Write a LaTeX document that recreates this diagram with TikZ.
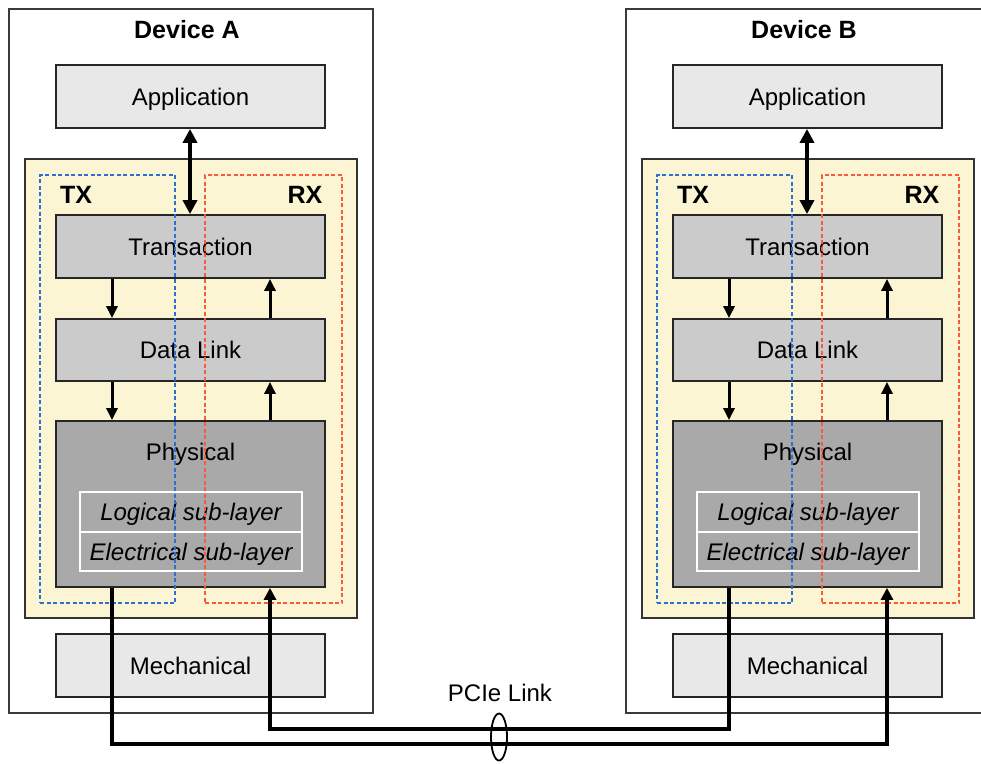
\documentclass[tikz,border=0pt]{standalone}
\usepackage{fontspec}
\setmainfont{Liberation Sans}
\usetikzlibrary{arrows.meta,shapes.geometric}
\definecolor{applight}{HTML}{E8E8E8}
\definecolor{midgray}{HTML}{CBCBCB}
\definecolor{phygray}{HTML}{A9A9A9}
\definecolor{paleyellow}{HTML}{FCF5D3}
\definecolor{txblue}{HTML}{2B6FD2}
\definecolor{rxred}{HTML}{FA5A3C}
\definecolor{framegray}{HTML}{3A3A3A}
\tikzset{
  outerbox/.style={draw=framegray, line width=1.4pt, inner sep=0pt},
  layerbox/.style={draw=black!85, line width=1.8pt, inner sep=0pt, minimum width=269pt},
  yellowbox/.style={draw=black!80, fill=paleyellow, line width=1.8pt, inner sep=0pt},
  txbox/.style={draw=txblue, line width=2.5pt, dash pattern=on 4pt off 2.5pt, inner sep=0pt},
  rxbox/.style={draw=rxred, line width=2.5pt, dash pattern=on 4pt off 2.5pt, inner sep=0pt},
  subbox/.style={draw=white, line width=1.2pt, inner sep=0pt, minimum width=222pt},
  txt/.style={font=\fontsize{24}{28}\selectfont, inner sep=0pt, text depth=0pt},
  btxt/.style={font=\fontsize{25}{29}\selectfont\bfseries, inner sep=0pt},
  itxt/.style={font=\fontsize{24}{28}\selectfont\itshape, text depth=0pt},
  smallarr/.style={line width=3pt, -{Triangle[length=12pt,width=11pt]}},
  dblarr/.style={line width=4.5pt, {Triangle[length=14pt,width=14pt]}-{Triangle[length=14pt,width=14pt]}},
  linkline/.style={line width=3.5pt, line join=miter, -{Triangle[length=12pt,width=12pt]}},
}
\newcommand\drawdevice[3]{%
\begin{scope}[xshift=#2]
  \coordinate (tx#1) at (112,0);
  \coordinate (rx#1) at (270,0);
  \coordinate (bi#1) at (190,0);
  \node[btxt] (title#1) at (187,30) {#3};
  \node[layerbox, fill=applight, minimum height=63pt, txt] (app#1) at (190.5,96.5) {Application};
  \node[yellowbox, minimum width=332pt, minimum height=459pt] (core#1) at (191,388.5) {};
  \node[layerbox, fill=midgray, minimum height=63pt, txt] (trans#1) at (190.5,246.5) {Transaction};
  \node[layerbox, fill=midgray, minimum height=62pt, txt] (dl#1) at (190.5,350) {Data Link};
  \node[layerbox, fill=phygray, minimum height=166pt] (phy#1) at (190.5,504) {};
  \node[txt] (phytext#1) at (190.5,452) {Physical};
  \node[subbox, minimum height=40pt, itxt] (logic#1) at (191,512) {Logical sub-layer};
  \node[subbox, minimum height=39pt, itxt] (elec#1) at (191,551.5) {Electrical sub-layer};
  \node[layerbox, fill=applight, minimum height=63pt, txt] (mech#1) at (190.5,665.5) {Mechanical};
  \node[txbox, minimum width=135pt, minimum height=428pt] (txregion#1) at (107.5,389) {};
  \node[rxbox, minimum width=137pt, minimum height=428pt] (rxregion#1) at (273.5,389) {};
  \node[btxt] (txlabel#1) at (76,195) {TX};
  \node[btxt] (rxlabel#1) at (305,195) {RX};
  \draw[smallarr] (trans#1.south -| tx#1) -- (dl#1.north -| tx#1);
  \draw[smallarr] (dl#1.south -| tx#1) -- (phy#1.north -| tx#1);
  \draw[smallarr] (phy#1.north -| rx#1) -- (dl#1.south -| rx#1);
  \draw[smallarr] (dl#1.north -| rx#1) -- (trans#1.south -| rx#1);
  \draw[dblarr] (app#1.south -| bi#1) -- (trans#1.north -| bi#1);
\end{scope}}
\begin{document}
\begin{tikzpicture}[x=1pt,y=-1pt]
  \useasboundingbox[fill=white] (0,0) rectangle (981,764);
  \clip (0,0) rectangle (981,764);
  \node[outerbox, minimum width=364pt, minimum height=704pt] (outerA) at (191,361) {};
  \node[outerbox, minimum width=380pt, minimum height=704pt] (outerB) at (816,361) {};
  \drawdevice{A}{0pt}{Device A}
  \drawdevice{B}{617pt}{Device B}
  \coordinate (linkhi) at (0,729);
  \coordinate (linklo) at (0,744);
  \draw[linkline] (phyA.south -| txA) -- (txA |- linklo) -- (rxB |- linklo) -- (phyB.south -| rxB);
  \draw[linkline] (phyB.south -| txB) -- (txB |- linkhi) -- (rxA |- linkhi) -- (phyA.south -| rxA);
  \node[draw, ellipse, line width=1.8pt, minimum width=16pt, minimum height=47pt, inner sep=0pt] (ring) at (499,737) {};
  \node[txt] (pcie) at (500,693) {PCIe Link};
\end{tikzpicture}
\end{document}
